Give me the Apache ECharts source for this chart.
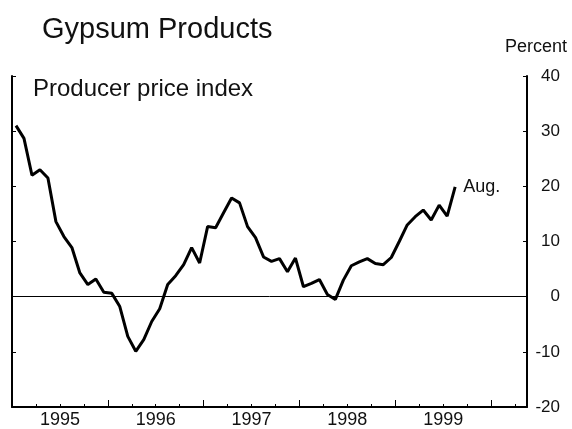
<!DOCTYPE html>
<html>
<head>
<meta charset="utf-8">
<script src="https://cdn.jsdelivr.net/npm/echarts@6/dist/echarts.min.js"></script>
<style>
  html, body { margin: 0; padding: 0; background: #fff; }
  #chart { width: 572px; height: 429px; }
</style>
</head>
<body>
<div id="chart"></div>
<script>
// monthly producer price index, percent change, Jan 1995 - Aug 1999
const startYear = 1995;
const yearLabels = ['1995', '1996', '1997', '1998', '1999'];
const ppiValues = [
    31, 28.7, 22, 23, 21.5, 13.6, 10.9, 8.9, 4.3, 2.2, 3.2, 0.8,
    0.6, -1.8, -7.2, -9.9, -7.8, -4.5, -2.2, 2.2, 3.8, 5.8, 8.9, 6.1,
    12.7, 12.5, 15.2, 17.9, 17, 12.7, 10.7, 7.2, 6.4, 6.9, 4.5, 7.0,
    1.8, 2.4, 3.1, 0.4, -0.5, 3.0, 5.6, 6.3, 6.9, 6.0, 5.8, 7.1,
    10, 13, 14.5, 15.7, 13.9, 16.6, 14.6, 19.9
];
const yTicks = [-20, -10, 0, 10, 20, 30, 40];
const lastLabel = 'Aug.';

const font = 'Liberation Sans, Arial, Helvetica, sans-serif';
const ink = '#111';

const chart = echarts.init(document.getElementById('chart'), null, { renderer: 'canvas' });

// months since Jan 1995, plotted mid-month
const points = ppiValues.map((v, i) => [i + 0.5, v]);

var option = {
    animation: false,
    backgroundColor: '#fff',
    title: [
        {
            text: 'Gypsum Products',
            left: 42,
            top: 15,
            padding: 0,
            textStyle: { fontFamily: font, fontSize: 29, fontWeight: 'normal', color: ink }
        },
        {
            text: 'Percent',
            right: 5,
            top: 38,
            padding: 0,
            textStyle: { fontFamily: font, fontSize: 18, fontWeight: 'normal', color: ink }
        },
        {
            text: 'Producer price index',
            left: 33,
            top: 77,
            padding: 0,
            textStyle: { fontFamily: font, fontSize: 24, fontWeight: 'normal', color: ink }
        }
    ],
    grid: {
        left: 12,
        right: 45,
        top: 76,
        bottom: 21
    },
    xAxis: [
        {
            type: 'value',
            min: 0,
            max: 64.5,
            interval: 3,
            axisLine: { onZero: false, lineStyle: { color: '#000', width: 2 } },
            axisTick: { inside: true, length: 3, lineStyle: { color: '#000', width: 1 } },
            axisLabel: {
                margin: 4,
                fontFamily: font,
                fontSize: 18,
                color: ink,
                formatter: function (v) {
                    if (v % 12 !== 6) return '';
                    const idx = (v - 6) / 12;
                    return yearLabels[idx] || '';
                }
            },
            splitLine: { show: false }
        },
        {
            // taller ticks at year boundaries
            type: 'value',
            position: 'bottom',
            min: 0,
            max: 64.5,
            interval: 12,
            axisLine: { show: false, onZero: false },
            axisTick: { inside: true, length: 7, lineStyle: { color: '#000', width: 1 } },
            axisLabel: { show: false },
            splitLine: { show: false }
        }
    ],
    yAxis: [
        {
            type: 'value',
            position: 'left',
            min: yTicks[0],
            max: yTicks[yTicks.length - 1],
            interval: 10,
            axisLine: { show: true, onZero: false, lineStyle: { color: '#000', width: 2 } },
            axisTick: { show: true, inside: true, length: 4, lineStyle: { color: '#000', width: 1 } },
            axisLabel: { show: false },
            splitLine: { show: false }
        },
        {
            type: 'value',
            position: 'right',
            min: yTicks[0],
            max: yTicks[yTicks.length - 1],
            interval: 10,
            axisLine: { show: true, onZero: false, lineStyle: { color: '#000', width: 2 } },
            axisTick: { show: true, inside: true, length: 4, lineStyle: { color: '#000', width: 1 } },
            axisLabel: { margin: 33, align: 'right', fontFamily: font, fontSize: 17, color: ink },
            splitLine: { show: false }
        }
    ],
    series: [{
        name: 'PPI',
        type: 'line',
        xAxisIndex: 0,
        yAxisIndex: 1,
        data: points,
        symbol: 'none',
        lineStyle: { color: '#000', width: 3 },
        endLabel: {
            show: true,
            formatter: lastLabel,
            distance: 8,
            fontFamily: font,
            fontSize: 18,
            color: ink
        },
        markLine: {
            silent: true,
            symbol: 'none',
            label: { show: false },
            lineStyle: { color: '#000', width: 1, type: 'solid' },
            data: [{ yAxis: 0 }]
        }
    }]
};

chart.setOption(option);
</script>
</body>
</html>
